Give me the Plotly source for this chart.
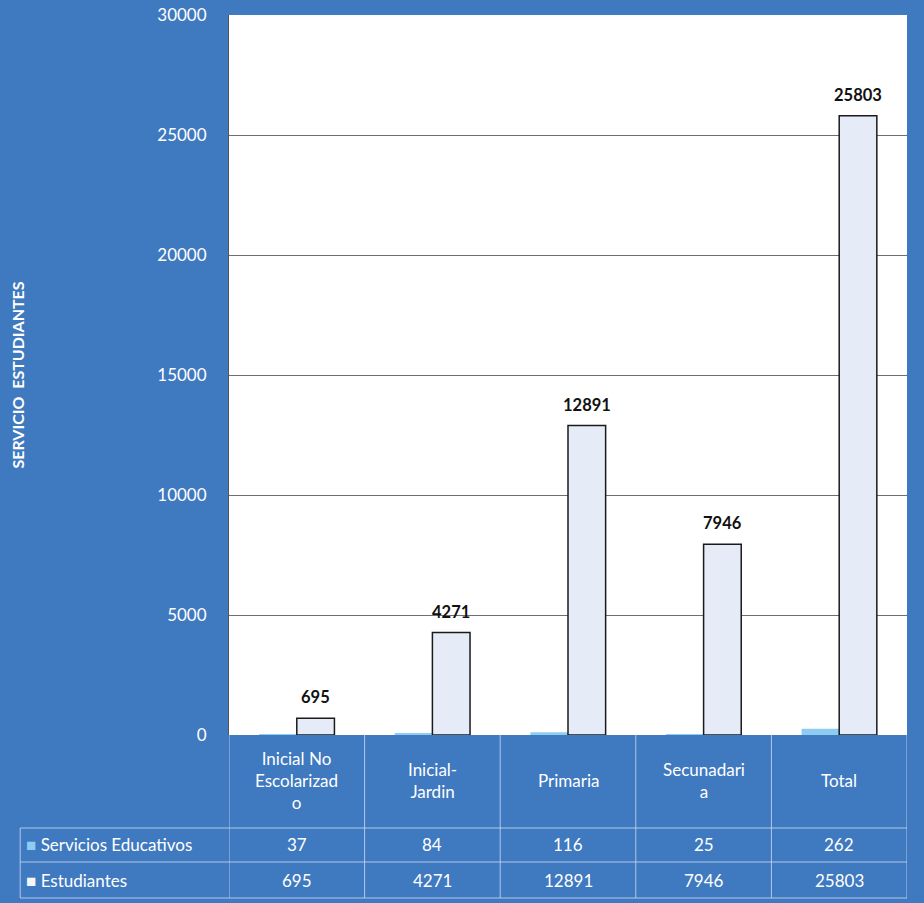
import plotly.graph_objects as go

categories = ["Inicial No Escolarizado", "Inicial-Jardin", "Primaria", "Secunadaria", "Total"]
category_labels = ["Inicial No<br>Escolarizad<br>o", "Inicial-<br>Jardin", "Primaria", "Secunadari<br>a", "Total"]
servicios = [37, 84, 116, 25, 262]
estudiantes = [695, 4271, 12891, 7946, 25803]
series_names = ["Servicios Educativos", "Estudiantes"]
y_ticks = [0, 5000, 10000, 15000, 20000, 25000, 30000]

BG = "#3f79c0"
FONT = "Lato"
LINE = "rgba(205,220,245,0.8)"
BARGAP = 0.445
PLOT_W = 924 - 229 - 17

fig = go.Figure()
fig.add_trace(go.Bar(
    x=categories, y=servicios, name=series_names[0],
    marker=dict(color="#8ecdf0", line=dict(width=0)),
))
fig.add_trace(go.Bar(
    x=categories, y=estudiantes, name=series_names[1],
    marker=dict(color="#e6ecf7", line=dict(color="#1a1a1a", width=1.5)),
))

# table geometry in paper coords (plot height 720 px)
H = 720.0
def py(pix_from_axis):
    return -pix_from_axis / H

header_y = py(45)
row1_y = py(110)
row2_y = py(145)
row_lines = [py(93), py(127), py(163)]
left_x = -0.308
n = len(categories)
bar_shift = (1 - BARGAP) / 4 * PLOT_W / n  # center of second bar in group, px

annotations = []
# data labels for Estudiantes
for cat, e in zip(categories, estudiantes):
    annotations.append(dict(x=cat, y=e, xref="x", yref="y", text="<b>%d</b>" % e,
                            showarrow=False, xshift=bar_shift, yshift=9, yanchor="bottom",
                            font=dict(family=FONT, size=16.5, color="#111111")))
for cat, lab in zip(categories, category_labels):
    annotations.append(dict(x=cat, y=header_y, xref="x", yref="paper", text=lab,
                            showarrow=False, font=dict(family=FONT, size=17, color="white"),
                            align="center", yanchor="middle"))
for cat, s, e in zip(categories, servicios, estudiantes):
    annotations.append(dict(x=cat, y=row1_y, xref="x", yref="paper", text=str(s),
                            showarrow=False, font=dict(family=FONT, size=17, color="white"),
                            yanchor="middle"))
    annotations.append(dict(x=cat, y=row2_y, xref="x", yref="paper", text=str(e),
                            showarrow=False, font=dict(family=FONT, size=17, color="white"),
                            yanchor="middle"))
annotations.append(dict(x=left_x + 0.006, y=row1_y, xref="paper", yref="paper",
                        text="<span style='color:#8ecdf0'>■</span> " + series_names[0],
                        showarrow=False, xanchor="left", yanchor="middle",
                        font=dict(family=FONT, size=17, color="white")))
annotations.append(dict(x=left_x + 0.006, y=row2_y, xref="paper", yref="paper",
                        text="<span style='color:#f4f6fb'>■</span> " + series_names[1],
                        showarrow=False, xanchor="left", yanchor="middle",
                        font=dict(family=FONT, size=17, color="white")))

shapes = []
for i in range(n + 1):
    shapes.append(dict(type="line", xref="x", yref="paper", x0=i - 0.5, x1=i - 0.5,
                       y0=0, y1=row_lines[-1], line=dict(color=LINE, width=1)))
shapes.append(dict(type="line", xref="paper", yref="paper", x0=left_x, x1=left_x,
                   y0=row_lines[0], y1=row_lines[-1], line=dict(color=LINE, width=1)))
for yl in row_lines:
    shapes.append(dict(type="line", xref="paper", yref="paper", x0=left_x, x1=1,
                       y0=yl, y1=yl, line=dict(color=LINE, width=1)))

fig.update_layout(
    width=924, height=903,
    margin=dict(l=229, r=17, t=15, b=168, autoexpand=False),
    paper_bgcolor=BG, plot_bgcolor="white",
    barmode="group", bargap=BARGAP, bargroupgap=0,
    showlegend=False,
    annotations=annotations, shapes=shapes,
    font=dict(family=FONT),
    xaxis=dict(showticklabels=False, showgrid=False, zeroline=False, automargin=False,
               showline=False, range=[-0.5, n - 0.5]),
    yaxis=dict(range=[0, 30000], tickvals=y_ticks, ticktext=[str(t) for t in y_ticks],
               tickfont=dict(family=FONT, size=17, color="white"), automargin=False,
               showgrid=True, gridcolor="#6e6e6e", gridwidth=1,
               zeroline=False, showline=True, linecolor="#555555", linewidth=1,
               ticks="", ticklabelstandoff=18,
               title=dict(text="<b>SERVICIO  ESTUDIANTES</b>", standoff=128,
                          font=dict(family=FONT, size=16, color="white"))),
)

fig.write_html("out.html", config={"displayModeBar": False},
               post_script="document.body.style.margin='0';document.body.style.background='%s';document.body.style.overflow='hidden';" % BG)
